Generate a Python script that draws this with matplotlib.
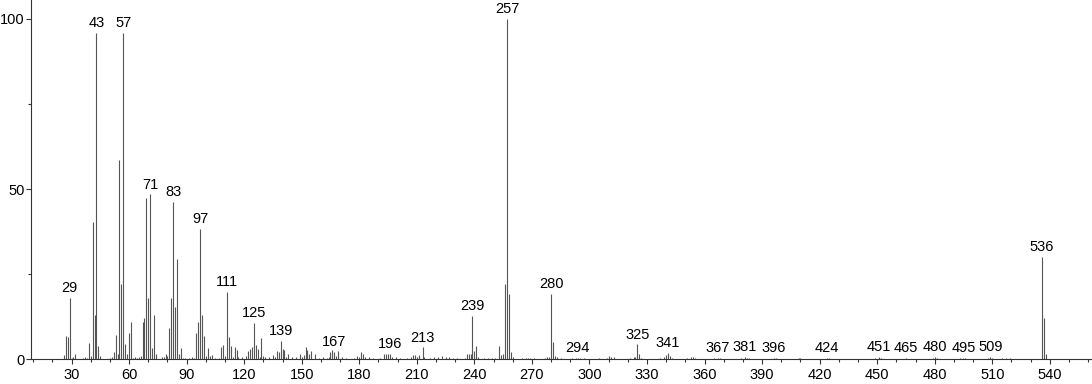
import numpy as np
import matplotlib
matplotlib.use('Agg')
import matplotlib.pyplot as plt
from matplotlib.ticker import MultipleLocator

plt.rcParams['font.family'] = ['Liberation Sans', 'DejaVu Sans']
plt.rcParams['font.size'] = 10.5

# m/z and relative intensity (%)
mz = [26, 27, 28, 29, 30, 31, 32, 36, 37, 38, 39, 40, 41, 42, 43, 44, 45,
      50, 51, 52, 53, 54, 55, 56, 57, 58, 59, 60, 61, 62, 63, 64, 65, 66,
      67, 68, 69, 70, 71, 72, 73, 74, 77, 78, 79, 80, 81, 82, 83, 84, 85,
      86, 87, 88, 89, 91, 93, 94, 95, 96, 97, 98, 99, 100, 101, 102, 103,
      105, 107, 108, 109, 110, 111, 112, 113, 114, 115, 116, 117, 119,
      121, 122, 123, 124, 125, 126, 127, 128, 129, 130, 131, 133, 135,
      136, 137, 138, 139, 140, 141, 142, 143, 145, 147, 149, 150, 151,
      152, 153, 154, 155, 157, 159, 161, 163, 164, 165, 166, 167, 168,
      169, 171, 173, 177, 179, 180, 181, 182, 183, 185, 187, 191, 193,
      194, 195, 196, 197, 199, 201, 205, 207, 208, 209, 210, 211, 213,
      214, 217, 219, 221, 223, 225, 227, 229, 231, 235, 236, 237, 238,
      239, 240, 241, 242, 245, 247, 249, 251, 253, 254, 255, 256, 257,
      258, 259, 260, 265, 267, 268, 269, 271, 277, 278, 279, 280, 281,
      282, 283, 285, 291, 293, 294, 295, 297, 305, 309, 310, 311, 313,
      321, 323, 324, 325, 326, 327, 337, 339, 340, 341, 342, 343, 351,
      353, 354, 355, 365, 367, 368, 379, 381, 382, 383, 396, 397, 409,
      410, 424, 425, 449, 451, 452, 465, 479, 480, 481, 493, 495, 496,
      508, 509, 510, 515, 517, 519, 536, 537, 538]
rel_int = [1.2, 6.7, 6.5, 18.0, 0.5, 0.8, 1.5, 0.4, 0.7, 0.5, 4.7, 1.0, 40.3, 12.9, 95.8, 3.9, 1.0,
           0.5, 0.6, 2.2, 7.0, 1.5, 58.4, 22.2, 95.8, 4.6, 1.5, 7.8, 10.9, 0.5, 0.6, 0.5, 0.8, 1.0,
           10.9, 12.0, 47.3, 18.1, 48.4, 3.3, 12.9, 1.5, 0.6, 0.8, 1.5, 1.0, 9.1, 18.1, 46.3, 15.3, 29.4,
           1.5, 3.3, 0.5, 0.5, 0.5, 0.8, 0.5, 7.6, 10.9, 38.3, 12.9, 6.8, 1.0, 3.3, 1.0, 1.2,
           0.5, 0.5, 3.6, 4.3, 1.0, 19.7, 6.5, 4.0, 0.8, 3.5, 2.8, 0.6, 0.6,
           1.0, 2.3, 3.0, 3.5, 10.8, 4.2, 3.0, 0.8, 6.3, 1.0, 0.6, 0.6, 1.3,
           0.8, 2.5, 2.2, 5.4, 3.0, 2.6, 0.8, 1.5, 0.8, 0.8, 1.5, 0.6, 1.2,
           3.5, 2.6, 1.5, 2.3, 1.5, 0.5, 0.6, 0.5, 0.8, 2.0, 2.7, 2.2, 1.0,
           2.3, 0.6, 0.5, 0.5, 1.0, 0.6, 2.0, 1.5, 0.8, 0.6, 0.5, 0.5, 1.5,
           1.5, 1.7, 1.7, 0.8, 0.6, 0.5, 0.5, 0.8, 1.2, 1.2, 0.6, 1.2, 3.5,
           0.8, 0.5, 0.8, 0.6, 1.0, 0.8, 0.6, 0.5, 0.4, 0.5, 1.5, 1.6, 1.5,
           12.7, 2.3, 3.8, 0.6, 0.5, 0.4, 0.5, 0.5, 3.8, 1.2, 1.5, 22.2, 100.0,
           19.1, 2.0, 0.6, 0.4, 0.5, 0.5, 0.5, 0.4, 0.5, 0.8, 0.6, 19.1, 5.1,
           1.0, 0.6, 0.4, 0.4, 0.5, 0.5, 0.5, 0.4, 0.4, 0.5, 1.0, 0.8, 0.6,
           0.5, 0.6, 0.6, 4.4, 1.5, 0.5, 0.4, 0.6, 1.2, 1.8, 1.0, 0.5, 0.4,
           0.6, 0.8, 0.5, 0.3, 0.5, 0.4, 0.4, 0.6, 0.5, 0.4, 0.4, 0.3, 0.5,
           0.5, 0.4, 0.3, 0.4, 0.6, 0.4, 0.4, 0.4, 0.6, 0.4, 0.4, 0.5, 0.4,
           0.4, 0.6, 0.4, 0.5, 0.5, 0.5, 30.1, 12.0, 1.5]

# peaks that carry a m/z label
labeled = [29, 43, 57, 71, 83, 97, 111, 125, 139, 167, 196, 213, 239, 257,
           280, 294, 325, 341, 367, 381, 396, 424, 451, 465, 480, 495, 509, 536]

fig = plt.figure(figsize=(10.92, 3.84), dpi=100)
ax = fig.add_axes([0.0281, 0.0643, 0.9719, 0.9357])

ax.vlines(mz, 0, rel_int, colors='#555555', linewidth=0.8)

lookup = dict(zip(mz, rel_int))
for m in labeled:
    ax.annotate(str(m), (m, lookup[m]), xytext=(0, 2.0), textcoords='offset points',
                ha='center', va='bottom', fontsize=10.5)

ax.set_xlim(8.7, 562)
ax.set_ylim(0, 105.5)
ax.xaxis.set_major_locator(MultipleLocator(30))
ax.xaxis.set_minor_locator(MultipleLocator(10))
ax.set_xticks(np.arange(30, 541, 30))
ax.yaxis.set_major_locator(MultipleLocator(50))
ax.yaxis.set_minor_locator(MultipleLocator(25))

for s in ['top', 'right']:
    ax.spines[s].set_visible(False)
for s in ['left', 'bottom']:
    ax.spines[s].set_color('#333333')
    ax.spines[s].set_linewidth(0.8)

ax.tick_params(axis='both', which='major', direction='out', length=3.5, width=0.8,
               color='#333333', labelsize=10.5, pad=1)
ax.tick_params(axis='x', which='minor', direction='out', length=2.5, width=0.8, color='#333333')
ax.tick_params(axis='y', which='minor', direction='out', length=2, width=0.8, color='#333333')
ax.tick_params(axis='x', which='major', pad=3)

plt.savefig('out.png', dpi=100)
